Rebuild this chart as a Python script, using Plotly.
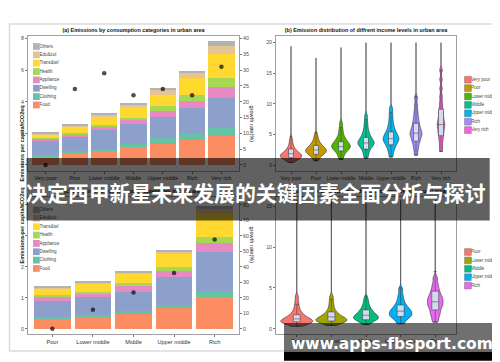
import plotly.graph_objects as go

W, H = 500, 362
FONT = "Liberation Sans, Arial, sans-serif"

# ---------------- data ----------------
components = ["Food", "Clothing", "Dwelling", "Appliance", "Health", "Trans&tel", "Edu&cul", "Others"]
comp_colors = ["#FC8D62", "#66C2A5", "#8DA0CB", "#E78AC3", "#A6D854", "#FFD92F", "#E5C494", "#B3B3B3"]

urban_levels = ["Very poor", "Poor", "Lower middle", "Middle", "Upper middle", "Rich", "Very rich"]
urban_food = [0.55, 0.77, 0.91, 1.13, 1.34, 1.55, 1.81]
urban_clothing = [0.11, 0.10, 0.13, 0.21, 0.34, 0.43, 0.51]
urban_dwelling = [0.85, 0.90, 1.15, 1.23, 1.36, 1.62, 1.91]
urban_appliance = [0.15, 0.17, 0.21, 0.26, 0.39, 0.46, 0.68]
urban_health = [0.06, 0.08, 0.13, 0.17, 0.27, 0.39, 0.60]
urban_trans = [0.22, 0.38, 0.51, 0.68, 0.75, 1.06, 1.53]
urban_edu = [0.06, 0.09, 0.13, 0.15, 0.29, 0.30, 0.49]
urban_others = [0.04, 0.04, 0.09, 0.08, 0.15, 0.15, 0.30]
urban_growth = [0, 24, 29, 22, 24, 22, 31]

rural_levels = ["Poor", "Lower middle", "Middle", "Upper middle", "Rich"]
rural_food = [0.31, 0.37, 0.49, 0.67, 1.01]
rural_clothing = [0.06, 0.06, 0.07, 0.08, 0.22]
rural_dwelling = [0.54, 0.58, 0.64, 0.91, 1.23]
rural_appliance = [0.10, 0.11, 0.17, 0.19, 0.29]
rural_health = [0.07, 0.08, 0.10, 0.13, 0.20]
rural_trans = [0.20, 0.24, 0.29, 0.43, 0.78]
rural_edu = [0.05, 0.04, 0.06, 0.08, 0.14]
rural_others = [0.02, 0.04, 0.03, 0.05, 0.09]
rural_growth = [0, 12.2, 23.3, 36, 57.6]

urban_hues = ["#F8766D", "#C49A00", "#53B400", "#00C094", "#00B6EB", "#A58AFF", "#FB61D7"]
rural_hues = ["#F8766D", "#A3A500", "#00BF7D", "#00B0F6", "#E76BF3"]

# emission samples (bulk of each distribution)
u_very_poor = [0.4, 0.7, 0.9, 1.0, 1.1, 1.2, 1.3, 1.35, 1.4, 1.5, 1.55, 1.6, 1.7, 1.75, 1.85, 1.95, 2.1, 2.25, 2.4, 2.6, 2.85, 3.2, 3.7, 4.3]
u_poor = [0.7, 1.1, 1.4, 1.6, 1.75, 1.9, 2.0, 2.1, 2.2, 2.3, 2.35, 2.45, 2.55, 2.65, 2.75, 2.9, 3.05, 3.2, 3.4, 3.65, 3.95, 4.4, 5.0]
u_lower_middle = [0.9, 1.4, 1.8, 2.1, 2.3, 2.5, 2.65, 2.8, 2.9, 3.0, 3.1, 3.2, 3.35, 3.5, 3.65, 3.8, 4.0, 4.25, 4.5, 4.9, 5.4, 6.0, 6.8]
u_middle = [1.1, 1.7, 2.1, 2.5, 2.8, 3.0, 3.2, 3.35, 3.5, 3.6, 3.75, 3.9, 4.05, 4.25, 4.45, 4.7, 5.0, 5.35, 5.8, 6.4, 7.1, 8.0]
u_upper_middle = [1.3, 2.0, 2.5, 2.9, 3.2, 3.5, 3.7, 3.9, 4.1, 4.25, 4.4, 4.6, 4.8, 5.0, 5.25, 5.5, 5.85, 6.3, 6.8, 7.5, 8.3, 9.2]
u_rich = [1.6, 2.4, 3.0, 3.5, 3.9, 4.2, 4.5, 4.8, 5.0, 5.2, 5.45, 5.7, 6.0, 6.3, 6.7, 7.1, 7.6, 8.2, 8.9, 9.8, 11.0]
u_very_rich = [2.2, 3.0, 3.8, 4.4, 4.9, 5.3, 5.7, 6.1, 6.4, 6.7, 7.0, 7.4, 7.8, 8.3, 8.8, 9.4, 10.2, 11.2, 12.5, 14.0, 15.5]
urban_max = [19.4, 17.5, 19.2, 20.0, 20.0, 20.0, 20.0]
urban_q1 = [1.2, 1.75, 2.3, 2.6, 3.3, 3.9, 4.8]
urban_median = [1.85, 2.45, 3.0, 3.6, 4.3, 5.2, 6.6]
urban_q3 = [2.6, 3.2, 3.8, 4.5, 5.4, 6.8, 9.1]
urban_whisk_lo = [0.4, 0.7, 0.9, 1.1, 1.3, 1.6, 2.2]
urban_whisk_hi = [4.7, 5.3, 6.1, 7.4, 8.6, 11.2, 15.5]

r_poor = [0.3, 0.5, 0.6, 0.7, 0.75, 0.8, 0.85, 0.9, 0.95, 1.0, 1.05, 1.1, 1.2, 1.3, 1.4, 1.5, 1.65, 1.8, 2.0, 2.3, 2.7, 3.2, 3.9]
r_lower_middle = [0.4, 0.6, 0.75, 0.85, 0.9, 0.95, 1.0, 1.05, 1.1, 1.15, 1.2, 1.3, 1.4, 1.5, 1.6, 1.75, 1.9, 2.1, 2.4, 2.8, 3.3, 3.9]
r_middle = [0.5, 0.8, 1.0, 1.1, 1.2, 1.25, 1.3, 1.4, 1.5, 1.6, 1.7, 1.8, 1.95, 2.1, 2.3, 2.5, 2.8, 3.2, 3.7]
r_upper_middle = [0.6, 0.9, 1.2, 1.4, 1.5, 1.6, 1.7, 1.85, 2.0, 2.1, 2.2, 2.35, 2.5, 2.7, 2.9, 3.2, 3.6, 4.1, 4.8]
r_rich = [0.8, 1.3, 1.7, 2.0, 2.3, 2.6, 2.8, 3.0, 3.2, 3.4, 3.6, 3.8, 4.0, 4.3, 4.6, 5.0, 5.5, 6.2]
rural_max = [15.8, 15.8, 15.8, 15.8, 15.8]
rural_q1 = [0.85, 0.95, 1.1, 1.5, 2.3]
rural_median = [1.2, 1.45, 1.65, 2.15, 3.3]
rural_q3 = [1.7, 2.05, 2.3, 2.9, 4.6]
rural_whisk_lo = [0.3, 0.4, 0.5, 0.6, 0.8]
rural_whisk_hi = [3.0, 3.6, 4.0, 5.0, 7.0]

title_a = "(a) Emissions by consumption categories in urban area"
title_b = "(b) Emission distribution of diffrent income levels in urban area"
title_c = "(c) Emissions by consumption categories in rural area"
title_d = "(d) Emission distribution of diffrent income levels in rural area"
y_title = "Emissions per capita/tCO2eq"
y2_title = "growth rate(%)"
banner_text = "决定西甲新星未来发展的关键因素全面分析与探讨"
watermark_text = "www.apps-fbsport.com"

# ---------------- layout geometry (pixels) ----------------
PA = (20, 231, 28, 163)
PB = (268, 448, 28, 163)
PC = (20, 231, 189.3, 326)
PD = (268, 448, 189.3, 326)


def xdom(p):
    return [p[0] / W, p[1] / W]


def ydom(p):
    return [1 - p[3] / H, 1 - p[2] / H]


def fx(x):
    return x / W


def fy(y):
    return 1 - y / H


fig = go.Figure()

urban_values = [urban_food, urban_clothing, urban_dwelling, urban_appliance,
                urban_health, urban_trans, urban_edu, urban_others]
rural_values = [rural_food, rural_clothing, rural_dwelling, rural_appliance,
                rural_health, rural_trans, rural_edu, rural_others]

for name, color, vals in zip(components, comp_colors, urban_values):
    fig.add_trace(go.Bar(x=urban_levels, y=vals, name=name, width=0.9,
                         marker=dict(color=color, line=dict(width=0)),
                         xaxis="x", yaxis="y", showlegend=False))
for name, color, vals in zip(components, comp_colors, rural_values):
    fig.add_trace(go.Bar(x=rural_levels, y=vals, name=name, width=0.9,
                         marker=dict(color=color, line=dict(width=0)),
                         xaxis="x3", yaxis="y3", showlegend=False))

fig.add_trace(go.Scatter(x=urban_levels, y=urban_growth, mode="markers",
                         marker=dict(color="rgba(20,20,20,0.75)", size=4.5),
                         xaxis="x", yaxis="y5", showlegend=False))
fig.add_trace(go.Scatter(x=rural_levels, y=rural_growth, mode="markers",
                         marker=dict(color="rgba(20,20,20,0.75)", size=4.5),
                         xaxis="x3", yaxis="y6", showlegend=False))

urban_samples = [u_very_poor, u_poor, u_lower_middle, u_middle, u_upper_middle, u_rich, u_very_rich]
urban_widths = [0.86, 0.83, 0.75, 0.65, 0.63, 0.47, 0.3]
for lvl, col, s, hi, w in zip(urban_levels, urban_hues, urban_samples, urban_max, urban_widths):
    fig.add_trace(go.Violin(x=[lvl] * len(s), y=s, xaxis="x2", yaxis="y2",
                            fillcolor=col, opacity=1, line=dict(color="#2a2a2a", width=0.6),
                            width=w, spanmode="manual", span=[min(s), hi], bandwidth=0.4,
                            points=False, scalemode="width", showlegend=False, hoverinfo="skip"))
fig.add_trace(go.Box(x=urban_levels, q1=urban_q1, median=urban_median, q3=urban_q3,
                     lowerfence=urban_whisk_lo, upperfence=urban_whisk_hi,
                     xaxis="x2", yaxis="y2", width=0.2, fillcolor="#d3dced",
                     line=dict(color="#333", width=0.5), boxpoints=False, showlegend=False))

rural_samples = [r_poor, r_lower_middle, r_middle, r_upper_middle, r_rich]
rural_widths = [0.92, 0.9, 0.72, 0.65, 0.45]
for lvl, col, s, hi, w in zip(rural_levels, rural_hues, rural_samples, rural_max, rural_widths):
    fig.add_trace(go.Violin(x=[lvl] * len(s), y=s, xaxis="x4", yaxis="y4",
                            fillcolor=col, opacity=1, line=dict(color="#2a2a2a", width=0.6),
                            width=w, spanmode="manual", span=[min(s), hi], bandwidth=0.3,
                            points=False, scalemode="width", showlegend=False, hoverinfo="skip"))
fig.add_trace(go.Box(x=rural_levels, q1=rural_q1, median=rural_median, q3=rural_q3,
                     lowerfence=rural_whisk_lo, upperfence=rural_whisk_hi,
                     xaxis="x4", yaxis="y4", width=0.2, fillcolor="#d3dced",
                     line=dict(color="#333", width=0.5), boxpoints=False, showlegend=False))

# ---------------- text drawn beneath the banner (pixel overlay axis) ----------------
txt_x, txt_y, txt_s = [], [], []
LEG_STEP = 8.35
shapes = []
for (lx, ly0) in [(25, 38.5), (25, 202.0)]:
    for i, (name, color) in enumerate(zip(components[::-1], comp_colors[::-1])):
        cy = ly0 + i * LEG_STEP
        shapes.append(dict(type="rect", xref="paper", yref="paper",
                           x0=fx(lx), x1=fx(lx + 6.8), y0=fy(cy - 3.4), y1=fy(cy + 3.4),
                           fillcolor=color, line=dict(width=0), layer="above"))
        txt_x.append(lx + 6.5)
        txt_y.append(cy)
        txt_s.append(name)
for (lx, ly0, levels, hues) in [(456.5, 71.7, urban_levels, urban_hues), (456.5, 244.0, rural_levels, rural_hues)]:
    for i, (name, color) in enumerate(zip(levels, hues)):
        cy = ly0 + i * 8.4
        shapes.append(dict(type="rect", xref="paper", yref="paper",
                           x0=fx(lx), x1=fx(lx + 6.8), y0=fy(cy - 3.4), y1=fy(cy + 3.4),
                           fillcolor=color, line=dict(color="#666", width=0.4), layer="above"))
        txt_x.append(lx + 6.5)
        txt_y.append(cy)
        txt_s.append(name)

fig.add_trace(go.Scatter(x=txt_x, y=txt_y, text=txt_s, mode="text", textposition="middle right",
                         textfont=dict(size=4.5, color="#444", family=FONT), cliponaxis=False,
                         xaxis="x5", yaxis="y7", showlegend=False, hoverinfo="skip"))
fig.add_trace(go.Scatter(x=[125.5, 358, 125.5, 358], y=[22.5, 22.5, 184.0, 184.0],
                         text=[title_a, title_b, title_c, title_d], mode="text",
                         textposition="middle center", cliponaxis=False,
                         textfont=dict(size=5.4, color="#111", family=FONT, weight="bold"),
                         xaxis="x5", yaxis="y7", showlegend=False, hoverinfo="skip"))

# ---------------- axes ----------------
def xstyle(p, cats, anchor, fs):
    return dict(domain=xdom(p), anchor=anchor, type="category", categoryorder="array",
                categoryarray=cats, range=[-0.6, len(cats) - 0.4], tickangle=0,
                showline=True, linecolor="#a0a0a0", linewidth=0.8, mirror=True,
                ticks="outside", ticklen=2, tickwidth=0.6, tickcolor="#777",
                showgrid=False, zeroline=False,
                tickfont=dict(size=fs, color="#333", family=FONT))


def ystyle(p, rng, dtick, anchor):
    return dict(domain=ydom(p), anchor=anchor, range=rng, dtick=dtick, tick0=0,
                showline=True, linecolor="#a0a0a0", linewidth=0.8, mirror=True,
                ticks="outside", ticklen=2, tickwidth=0.6, tickcolor="#777",
                showgrid=False, zeroline=False,
                tickfont=dict(size=5.3, color="#4d4d4d", family=FONT))


def y2style(over, anchor, rng, dtick):
    return dict(overlaying=over, side="right", anchor=anchor, range=rng, dtick=dtick, tick0=0,
                showline=False, ticks="outside", ticklen=2, tickwidth=0.6, tickcolor="#777",
                showgrid=False, zeroline=False,
                tickfont=dict(size=5.3, color="#4d4d4d", family=FONT))


fig.update_layout(
    width=W, height=H, margin=dict(l=0, r=0, t=0, b=0),
    paper_bgcolor="white", plot_bgcolor="rgba(0,0,0,0)",
    barmode="stack", violinmode="overlay", boxmode="overlay",
    violingap=0, violingroupgap=0, boxgap=0, boxgroupgap=0,
    showlegend=False,
    xaxis=xstyle(PA, urban_levels, "y", 5.2),
    yaxis=ystyle(PA, [-0.38, 8.15], 2, "x"),
    xaxis2=xstyle(PB, urban_levels, "y2", 4.9),
    yaxis2=ystyle(PB, [-0.98, 21.08], 5, "x2"),
    xaxis3=xstyle(PC, rural_levels, "y3", 5.6),
    yaxis3=ystyle(PC, [-0.17, 4.24], 1, "x3"),
    xaxis4=xstyle(PD, rural_levels, "y4", 5.3),
    yaxis4=ystyle(PD, [-0.65, 16.1], 5, "x4"),
    yaxis5=y2style("y", "x", [-1.9, 40.75], 5),
    yaxis6=y2style("y3", "x3", [-3.4, 84.8], 10),
    xaxis5=dict(domain=[0, 1], range=[0, W], visible=False, anchor="y7", fixedrange=True),
    yaxis7=dict(domain=[0, 1], range=[H, 0], visible=False, anchor="x5", fixedrange=True),
)

# outer frame
shapes.insert(0, dict(type="rect", xref="paper", yref="paper",
                      x0=fx(1.5), x1=fx(498), y0=fy(16), y1=fy(343),
                      line=dict(color="#dcdcdc", width=1.5), fillcolor="rgba(0,0,0,0)", layer="below"))
# banner
shapes.append(dict(type="rect", xref="paper", yref="paper",
                   x0=fx(18.5), x1=fx(481.7), y0=fy(212.5), y1=fy(150),
                   fillcolor="rgba(0,0,0,0.62)", line=dict(width=0), layer="above"))
# watermark
shapes.append(dict(type="rect", xref="paper", yref="paper",
                   x0=fx(276), x1=fx(490.7), y0=fy(344), y1=fy(315),
                   fillcolor="rgba(0,0,0,0.56)", line=dict(width=0), layer="above"))
shapes.append(dict(type="rect", xref="paper", yref="paper",
                   x0=fx(276), x1=fx(490.7), y0=fy(352.7), y1=fy(344),
                   fillcolor="#000000", line=dict(width=0), layer="above"))
fig.update_layout(shapes=shapes)

annotations = [
    dict(text="<b>" + y_title + "</b>", x=fx(8), y=fy(95.5), xref="paper", yref="paper",
         textangle=-90, showarrow=False, font=dict(size=5.5, color="#222", family=FONT)),
    dict(text="<b>" + y_title + "</b>", x=fx(8), y=fy(257.5), xref="paper", yref="paper",
         textangle=-90, showarrow=False, font=dict(size=5.5, color="#222", family=FONT)),
    dict(text=y2_title, x=fx(243.5), y=fy(95.5), xref="paper", yref="paper",
         textangle=90, showarrow=False, font=dict(size=5.6, color="#222", family=FONT)),
    dict(text=y2_title, x=fx(243.5), y=fy(257.5), xref="paper", yref="paper",
         textangle=90, showarrow=False, font=dict(size=5.6, color="#222", family=FONT)),
    dict(text="<b>" + banner_text + "</b>", x=fx(247.5), y=fy(184), xref="paper", yref="paper",
         showarrow=False, xanchor="center", yanchor="middle",
         font=dict(size=20.9, color="white", family="Noto Sans CJK SC")),
    dict(text="<b>" + watermark_text + "</b>", x=fx(383.5), y=fy(335.5), xref="paper", yref="paper",
         showarrow=False, xanchor="center", yanchor="middle",
         font=dict(size=15.5, color="white", family="DejaVu Sans")),
]
fig.update_layout(annotations=annotations)

fig.write_html("out.html")
